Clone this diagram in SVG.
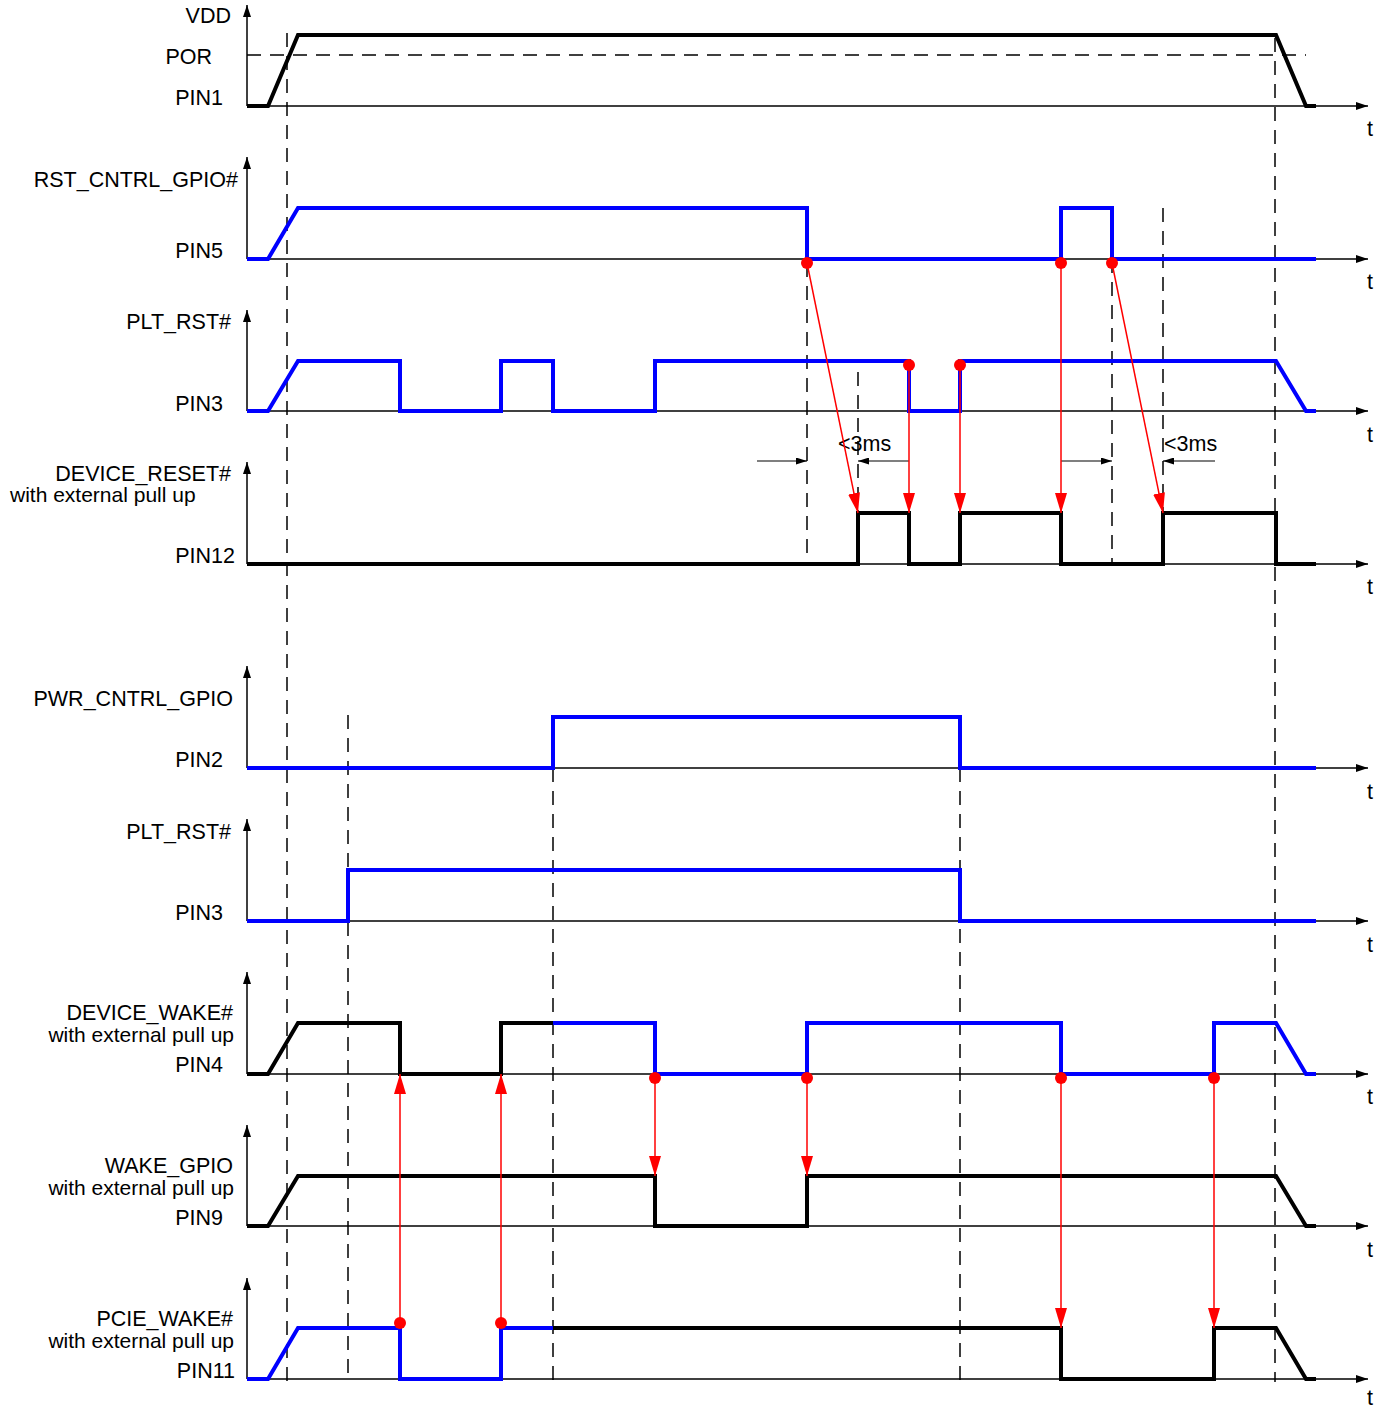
<svg xmlns="http://www.w3.org/2000/svg" width="1389" height="1409" viewBox="0 0 1389 1409">
<style>
text{font-family:"Liberation Sans",Arial,sans-serif;font-size:21.5px;fill:#000}
.lbl{text-anchor:end}
.sub{font-size:21px}
.t{text-anchor:middle}
.ax{fill:none;stroke:#000;stroke-width:1.5}
.sb{fill:none;stroke:#000;stroke-width:4}
.su{fill:none;stroke:#0000ff;stroke-width:4}
.ds{fill:none;stroke:#000;stroke-width:1.5;stroke-dasharray:14 9}
.ra{fill:none;stroke:#ff0000;stroke-width:1.5}
.dot{fill:#ff0000}
.dim{fill:none;stroke:#000;stroke-width:1.2}
</style>
<defs>
<marker id="axh" markerUnits="userSpaceOnUse" markerWidth="12" markerHeight="8" refX="12" refY="4" orient="auto"><path d="M0,0 L12,4 L0,8 z" fill="#000"/></marker>
<marker id="rh" markerUnits="userSpaceOnUse" markerWidth="20" markerHeight="12" refX="20" refY="6" orient="auto"><path d="M0,0 L20,6 L0,12 z" fill="#ff0000"/></marker>
<marker id="dh" markerUnits="userSpaceOnUse" markerWidth="11" markerHeight="7" refX="11" refY="3.5" orient="auto"><path d="M0,0 L11,3.5 L0,7 z" fill="#000"/></marker>
</defs>

<g id="guides">
<path class="ds" d="M247,55 H1306"/>
<path class="ds" d="M287,33 V1382 M1275,38 V1382 M348,715 V1380 M553,768 V1380 M960,768 V1380 M807,263 V564 M858,372 V513 M1112,259 V564 M1163,208 V513"/>
</g>

<g id="row-vdd">
<path class="ax" d="M247,106 V5" marker-end="url(#axh)"/>
<path class="ax" d="M247,106 H1368" marker-end="url(#axh)"/>
<path class="sb" d="M247,106 H268 L298,35 H1276 L1306,106 H1316"/>
<text class="lbl" x="231" y="23">VDD</text>
<text class="lbl" x="212" y="64">POR</text>
<text class="lbl" x="223" y="105">PIN1</text>
<text class="t" x="1370" y="136">t</text>
</g>

<g id="row-rst-cntrl">
<path class="ax" d="M247,259 V157" marker-end="url(#axh)"/>
<path class="ax" d="M247,259 H1368" marker-end="url(#axh)"/>
<path class="su" d="M247,259 H268 L298,208 H807 V259 H1061 V208 H1112 V259 H1316"/>
<text class="lbl" x="238" y="187">RST_CNTRL_GPIO#</text>
<text class="lbl" x="223" y="258">PIN5</text>
<text class="t" x="1370" y="289">t</text>
</g>

<g id="row-plt-rst-1">
<path class="ax" d="M247,411 V310" marker-end="url(#axh)"/>
<path class="ax" d="M247,411 H1368" marker-end="url(#axh)"/>
<path class="su" d="M247,411 H268 L298,361 H400 V411 H501 V361 H553 V411 H655 V361 H909 V411 H960 V361 H1276 L1306,411 H1316"/>
<text class="lbl" x="231" y="329">PLT_RST#</text>
<text class="lbl" x="223" y="411">PIN3</text>
<text class="t" x="1370" y="442">t</text>
</g>

<g id="row-device-reset">
<path class="ax" d="M247,564 V462" marker-end="url(#axh)"/>
<path class="ax" d="M247,564 H1368" marker-end="url(#axh)"/>
<path class="sb" d="M247,564 H858 V513 H909 V564 H960 V513 H1061 V564 H1163 V513 H1276 V564 H1316"/>
<text class="lbl" x="231" y="481">DEVICE_RESET#</text>
<text class="sub" x="10" y="502">with external pull up</text>
<text class="lbl" x="235" y="563">PIN12</text>
<text class="t" x="1370" y="594">t</text>
</g>

<g id="row-pwr-cntrl">
<path class="ax" d="M247,768 V666" marker-end="url(#axh)"/>
<path class="ax" d="M247,768 H1368" marker-end="url(#axh)"/>
<path class="su" d="M247,768 H553 V717 H960 V768 H1316"/>
<text class="lbl" x="233" y="706">PWR_CNTRL_GPIO</text>
<text class="lbl" x="223" y="767">PIN2</text>
<text class="t" x="1370" y="799">t</text>
</g>

<g id="row-plt-rst-2">
<path class="ax" d="M247,921 V819" marker-end="url(#axh)"/>
<path class="ax" d="M247,921 H1368" marker-end="url(#axh)"/>
<path class="su" d="M247,921 H348 V870 H960 V921 H1316"/>
<text class="lbl" x="231" y="839">PLT_RST#</text>
<text class="lbl" x="223" y="920">PIN3</text>
<text class="t" x="1370" y="952">t</text>
</g>

<g id="row-device-wake">
<path class="ax" d="M247,1074 V972" marker-end="url(#axh)"/>
<path class="ax" d="M247,1074 H1368" marker-end="url(#axh)"/>
<path class="sb" d="M247,1074 H268 L298,1023 H400 V1074 H501 V1023 H553"/>
<path class="su" d="M553,1023 H655 V1074 H807 V1023 H1061 V1074 H1214 V1023 H1276 L1306,1074 H1316"/>
<text class="lbl" x="233" y="1020">DEVICE_WAKE#</text>
<text class="lbl sub" x="234" y="1042">with external pull up</text>
<text class="lbl" x="223" y="1072">PIN4</text>
<text class="t" x="1370" y="1104">t</text>
</g>

<g id="row-wake-gpio">
<path class="ax" d="M247,1226 V1125" marker-end="url(#axh)"/>
<path class="ax" d="M247,1226 H1368" marker-end="url(#axh)"/>
<path class="sb" d="M247,1226 H268 L298,1176 H655 V1226 H807 V1176 H1276 L1306,1226 H1316"/>
<text class="lbl" x="233" y="1173">WAKE_GPIO</text>
<text class="lbl sub" x="234" y="1195">with external pull up</text>
<text class="lbl" x="223" y="1225">PIN9</text>
<text class="t" x="1370" y="1257">t</text>
</g>

<g id="row-pcie-wake">
<path class="ax" d="M247,1379 V1278" marker-end="url(#axh)"/>
<path class="ax" d="M247,1379 H1368" marker-end="url(#axh)"/>
<path class="su" d="M247,1379 H268 L298,1328 H400 V1379 H501 V1328 H553"/>
<path class="sb" d="M553,1328 H1061 V1379 H1214 V1328 H1276 L1306,1379 H1316"/>
<text class="lbl" x="233" y="1326">PCIE_WAKE#</text>
<text class="lbl sub" x="234" y="1348">with external pull up</text>
<text class="lbl" x="235" y="1378">PIN11</text>
<text class="t" x="1370" y="1405">t</text>
</g>

<g id="timing-dims">
<path class="dim" d="M757,461 H807" marker-end="url(#dh)"/>
<path class="dim" d="M909,461 H858" marker-end="url(#dh)"/>
<text x="838" y="451">&lt;3ms</text>
<path class="dim" d="M1061,461 H1112" marker-end="url(#dh)"/>
<path class="dim" d="M1215,461 H1163" marker-end="url(#dh)"/>
<text x="1164" y="451">&lt;3ms</text>
</g>

<g id="connectors">
<path class="ra" d="M807,263 L858,513" marker-end="url(#rh)"/>
<path class="ra" d="M909,365 V513" marker-end="url(#rh)"/>
<path class="ra" d="M960,365 V513" marker-end="url(#rh)"/>
<path class="ra" d="M1061,263 V513" marker-end="url(#rh)"/>
<path class="ra" d="M1112,263 L1163,513" marker-end="url(#rh)"/>
<path class="ra" d="M655,1078 V1176" marker-end="url(#rh)"/>
<path class="ra" d="M807,1078 V1176" marker-end="url(#rh)"/>
<path class="ra" d="M400,1323 V1074" marker-end="url(#rh)"/>
<path class="ra" d="M501,1323 V1074" marker-end="url(#rh)"/>
<path class="ra" d="M1061,1078 V1328" marker-end="url(#rh)"/>
<path class="ra" d="M1214,1078 V1328" marker-end="url(#rh)"/>
<circle class="dot" cx="807" cy="263" r="6"/>
<circle class="dot" cx="1061" cy="263" r="6"/>
<circle class="dot" cx="1112" cy="263" r="6"/>
<circle class="dot" cx="909" cy="365" r="6"/>
<circle class="dot" cx="960" cy="365" r="6"/>
<circle class="dot" cx="655" cy="1078" r="6"/>
<circle class="dot" cx="807" cy="1078" r="6"/>
<circle class="dot" cx="1061" cy="1078" r="6"/>
<circle class="dot" cx="1214" cy="1078" r="6"/>
<circle class="dot" cx="400" cy="1323" r="6"/>
<circle class="dot" cx="501" cy="1323" r="6"/>
</g>
</svg>
